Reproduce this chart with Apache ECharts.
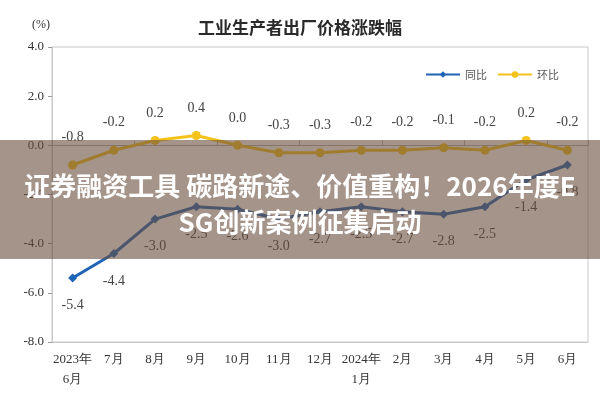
<!DOCTYPE html>
<html>
<head>
<meta charset="utf-8">
<script src="https://cdn.jsdelivr.net/npm/echarts@6/dist/echarts.min.js"></script>
<style>
  html, body { margin: 0; padding: 0; background: #fff; }
  #grafico { width: 600px; height: 400px; }
</style>
</head>
<body>
<div id="grafico"></div>
<script>
const meses = ["2023年\n6月", "7月", "8月", "9月", "10月", "11月", "12月", "2024年\n1月", "2月", "3月", "4月", "5月", "6月"];
const tongbi = [-5.4, -4.4, -3.0, -2.5, -2.6, -3.0, -2.7, -2.5, -2.7, -2.8, -2.5, -1.4, -0.8];
const huanbi = [-0.8, -0.2, 0.2, 0.4, 0.0, -0.3, -0.3, -0.2, -0.2, -0.1, -0.2, 0.2, -0.2];
const ticksY = [-8, -6, -4, -2, 0, 2, 4];

const fuenteSerif = "'Liberation Serif', 'DejaVu Serif', serif";
const fuenteCJK = "'Noto Sans CJK SC', sans-serif";

const grafico = echarts.init(document.getElementById("grafico"));

grafico.setOption({
    animation: false,
    title: {
        text: "工业生产者出厂价格涨跌幅",
        left: "center",
        top: 14,
        textStyle: { fontFamily: fuenteCJK, fontSize: 17, fontWeight: "bold", color: "#2a2a2a" }
    },
    legend: {
        right: 36,
        top: 64,
        itemWidth: 34,
        itemHeight: 8,
        itemGap: 10,
        textStyle: { fontFamily: fuenteCJK, fontSize: 11, color: "#555" },
        data: ["同比", "环比"]
    },
    grid: {
        left: 52, right: 12, top: 47, bottom: 58,
        show: true, borderColor: "#c8c8c8", borderWidth: 1
    },
    xAxis: [{
        type: "category",
        data: meses,
        boundaryGap: true,
        axisLine: { onZero: false, lineStyle: { color: "#c8c8c8" } },
        axisTick: { show: false },
        axisLabel: {
            interval: 0, margin: 8, lineHeight: 20,
            fontFamily: fuenteSerif, fontSize: 13, color: "#333"
        }
    }, {
        type: "category",
        data: meses,
        position: "bottom",
        boundaryGap: true,
        axisLine: { onZero: true, lineStyle: { color: "#b0b0b0" } },
        axisTick: { show: true, inside: true, length: 5, lineStyle: { color: "#b0b0b0" } },
        axisLabel: { show: false }
    }],
    yAxis: {
        type: "value",
        min: ticksY[0],
        max: ticksY[ticksY.length - 1],
        interval: 2,
        name: "(%)",
        nameLocation: "end",
        nameGap: 16,
        nameTextStyle: { fontFamily: fuenteSerif, fontSize: 12, color: "#333", align: "right", padding: [0, 2, 0, 0] },
        splitLine: { show: false },
        axisLine: { show: true, lineStyle: { color: "#c8c8c8" } },
        axisTick: { show: true, length: 4, lineStyle: { color: "#999" } },
        axisLabel: {
            fontFamily: fuenteSerif, fontSize: 13, color: "#333", margin: 8,
            formatter: function (v) { return v.toFixed(1); }
        }
    },
    series: [{
        name: "同比",
        type: "line",
        data: tongbi,
        symbol: "diamond",
        symbolSize: 9,
        lineStyle: { width: 3, color: "#1f63b5" },
        itemStyle: { color: "#1f63b5" },
        label: {
            show: true, position: "bottom", distance: 16,
            fontFamily: fuenteSerif, fontSize: 14, color: "#444",
            formatter: function (p) { return p.value.toFixed(1); }
        }
    }, {
        name: "环比",
        type: "line",
        data: huanbi,
        symbol: "circle",
        symbolSize: 9,
        lineStyle: { width: 3, color: "#f3c21b" },
        itemStyle: { color: "#f3c21b" },
        label: {
            show: true, position: "top", distance: 16,
            fontFamily: fuenteSerif, fontSize: 14, color: "#444",
            formatter: function (p) { return p.value.toFixed(1); }
        }
    }],
    graphic: [{
        type: "rect",
        z: 100,
        shape: { x: 0, y: 140, width: 600, height: 119 },
        style: { fill: "rgba(105,77,60,0.6)" }
    }, {
        type: "text",
        z: 101,
        x: 300, y: 186,
        style: {
            text: "证券融资工具 碳路新途、价值重构！2026年度E",
            fill: "#fff", fontFamily: fuenteCJK, fontSize: 26, fontWeight: "bold",
            align: "center", verticalAlign: "middle"
        }
    }, {
        type: "text",
        z: 101,
        x: 300, y: 222,
        style: {
            text: "SG创新案例征集启动",
            fill: "#fff", fontFamily: fuenteCJK, fontSize: 26, fontWeight: "bold",
            align: "center", verticalAlign: "middle"
        }
    }]
});
</script>
</body>
</html>
